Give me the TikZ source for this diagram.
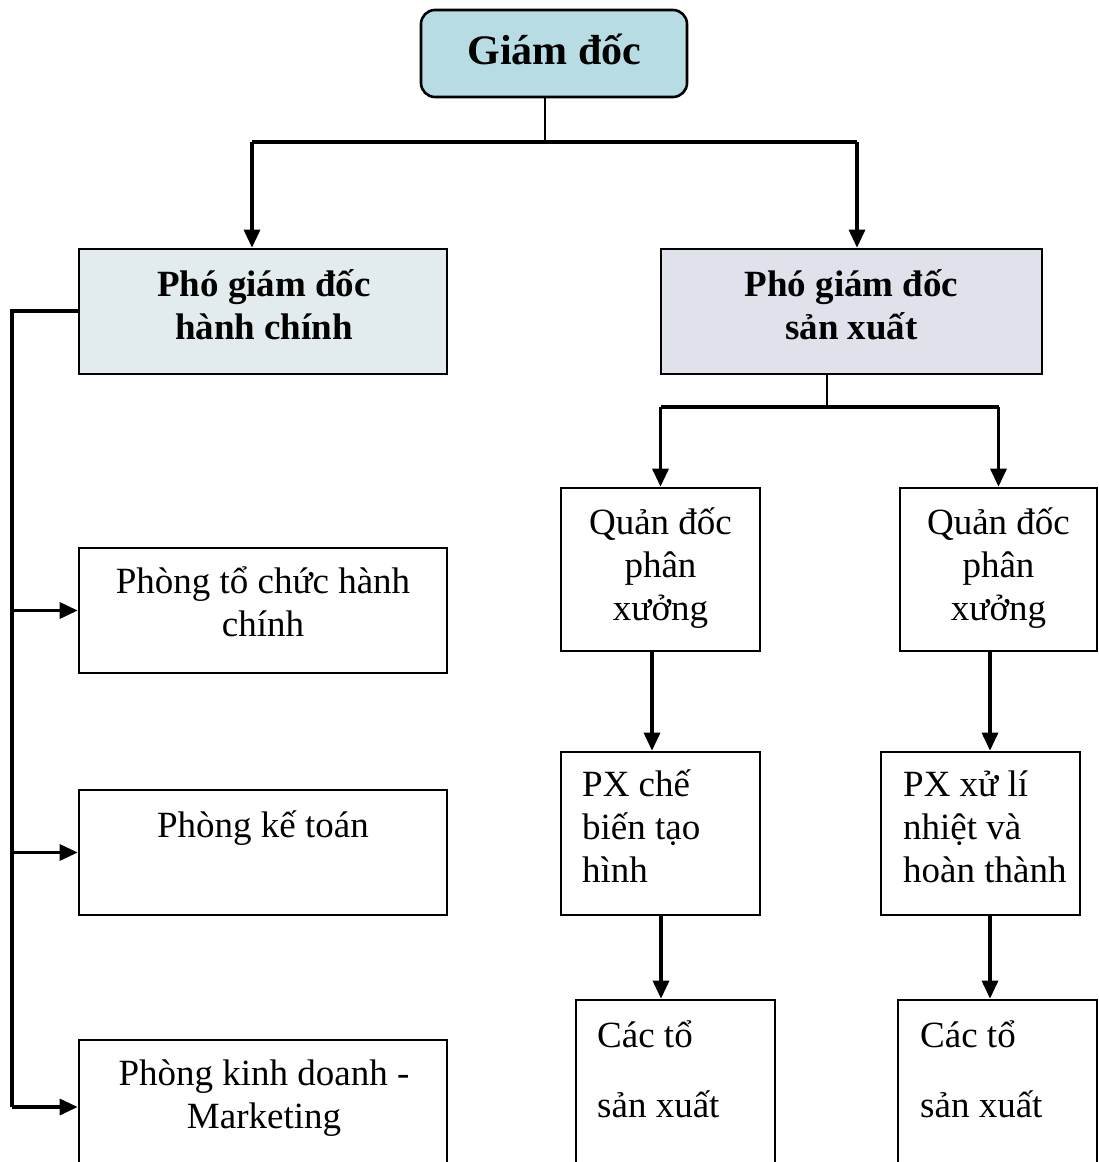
\documentclass[tikz,border=0pt]{standalone}
\usepackage{fontspec}
\setmainfont{Liberation Serif}
\usetikzlibrary{arrows.meta}
\definecolor{topfill}{HTML}{B7DCE4}
\definecolor{hcfill}{HTML}{E2EBED}
\definecolor{sxfill}{HTML}{DFE1EB}
\tikzset{
  box/.style={draw=black, line width=2.6pt, rectangle, inner sep=0pt},
  link/.style={draw=black, line width=3.2pt},
  arrowlink/.style={link, -{Triangle[length=18pt,width=16pt]}},
  txt/.style={inner sep=0pt, font=\fontsize{37}{43}\selectfont},
  ctxt/.style={txt, align=center, anchor=base},
  ltxt/.style={txt, align=left, anchor=base west},
  btxt/.style={ctxt, font=\fontsize{37}{43}\selectfont\bfseries},
}
\begin{document}
\begin{tikzpicture}[x=1pt,y=-1pt]
\clip (0,0) rectangle (1099,1162);
\fill[white] (0,0) rectangle (1099,1162);

% boxes
\node[box, fill=topfill, rounded corners=14pt, minimum width=266pt, minimum height=87pt] (gd) at (554,53.5) {};
\node[box, fill=hcfill, minimum width=368pt, minimum height=125pt] (pgdhc) at (263,311.5) {};
\node[box, fill=sxfill, minimum width=381pt, minimum height=125pt] (pgdsx) at (851.5,311.5) {};
\node[box, minimum width=368pt, minimum height=125pt] (ptc) at (263,610.5) {};
\node[box, minimum width=368pt, minimum height=125pt] (pkt) at (263,852.5) {};
\node[box, minimum width=368pt, minimum height=134pt] (pkd) at (263,1107) {};
\node[box, minimum width=199pt, minimum height=163pt] (qd1) at (660.5,569.5) {};
\node[box, minimum width=197pt, minimum height=163pt] (qd2) at (998.5,569.5) {};
\node[box, minimum width=199pt, minimum height=163pt] (px1) at (660.5,833.5) {};
\node[box, minimum width=199pt, minimum height=163pt] (px2) at (980.5,833.5) {};
\node[box, minimum width=199pt, minimum height=170pt] (ct1) at (675.5,1085) {};
\node[box, minimum width=199pt, minimum height=170pt] (ct2) at (997.5,1085) {};

% texts (a multi-line node sits on the baseline of its last line)
\node[btxt, font=\fontsize{42}{48}\selectfont\bfseries] (tgd) at (554.5,64) {Giám đốc};
\node[btxt] (thc) at (264,339) {Phó giám đốc\\hành chính};
\node[btxt] (tsx) at (851.5,339) {Phó giám đốc\\sản xuất};
\node[ctxt] (ttc) at (263,636) {Phòng tổ chức hành\\chính};
\node[ctxt] (tkt) at (263,837) {Phòng kế toán};
\node[ctxt] (tkd) at (264,1128) {Phòng kinh doanh -\\Marketing};
\node[ctxt] (tqd1) at (660.5,620) {Quản đốc\\phân\\xưởng};
\node[ctxt] (tqd2) at (998.5,620) {Quản đốc\\phân\\xưởng};
\node[ltxt] (tpx1) at (582,882) {PX chế\\biến tạo\\hình};
\node[ltxt] (tpx2) at (903,882) {PX xử lí\\nhiệt và\\hoàn thành};
\node[ltxt, font=\fontsize{37}{70}\selectfont] (tct1) at (597,1117) {Các tổ\\sản xuất};
\node[ltxt, font=\fontsize{37}{70}\selectfont] (tct2) at (920,1117) {Các tổ\\sản xuất};

% director to deputies
\coordinate (j0) at (545,142);
\coordinate (aL) at (252,142);
\coordinate (aR) at (857,142);
\draw[link, line width=2.4pt] (gd.south -| j0) -- (j0);
\draw[link] (aL) -- (aR);
\draw[arrowlink] (aL) -- (aL |- pgdhc.north);
\draw[arrowlink] (aR) -- (aR |- pgdsx.north);

% administrative branch
\coordinate (bus) at (12,311);
\draw[link] (pgdhc.west |- bus) -- (bus) -- (bus |- pkd.west);
\draw[arrowlink] (bus |- ptc.west) -- (ptc.west);
\draw[arrowlink] (bus |- pkt.west) -- (pkt.west);
\draw[arrowlink] (bus |- pkd.west) -- (pkd.west);

% production branch
\coordinate (j1) at (827,407);
\draw[link, line width=2.4pt] (pgdsx.south -| j1) -- (j1);
\draw[link] (qd1.north |- j1) -- (qd2.north |- j1);
\draw[arrowlink] (qd1.north |- j1) -- (qd1.north);
\draw[arrowlink] (qd2.north |- j1) -- (qd2.north);
\coordinate (c1) at (652,0);
\coordinate (c2) at (990,0);
\coordinate (c3) at (661,0);
\draw[arrowlink] (qd1.south -| c1) -- (px1.north -| c1);
\draw[arrowlink] (qd2.south -| c2) -- (px2.north -| c2);
\draw[arrowlink] (px1.south -| c3) -- (ct1.north -| c3);
\draw[arrowlink] (px2.south -| c2) -- (ct2.north -| c2);
\end{tikzpicture}
\end{document}
